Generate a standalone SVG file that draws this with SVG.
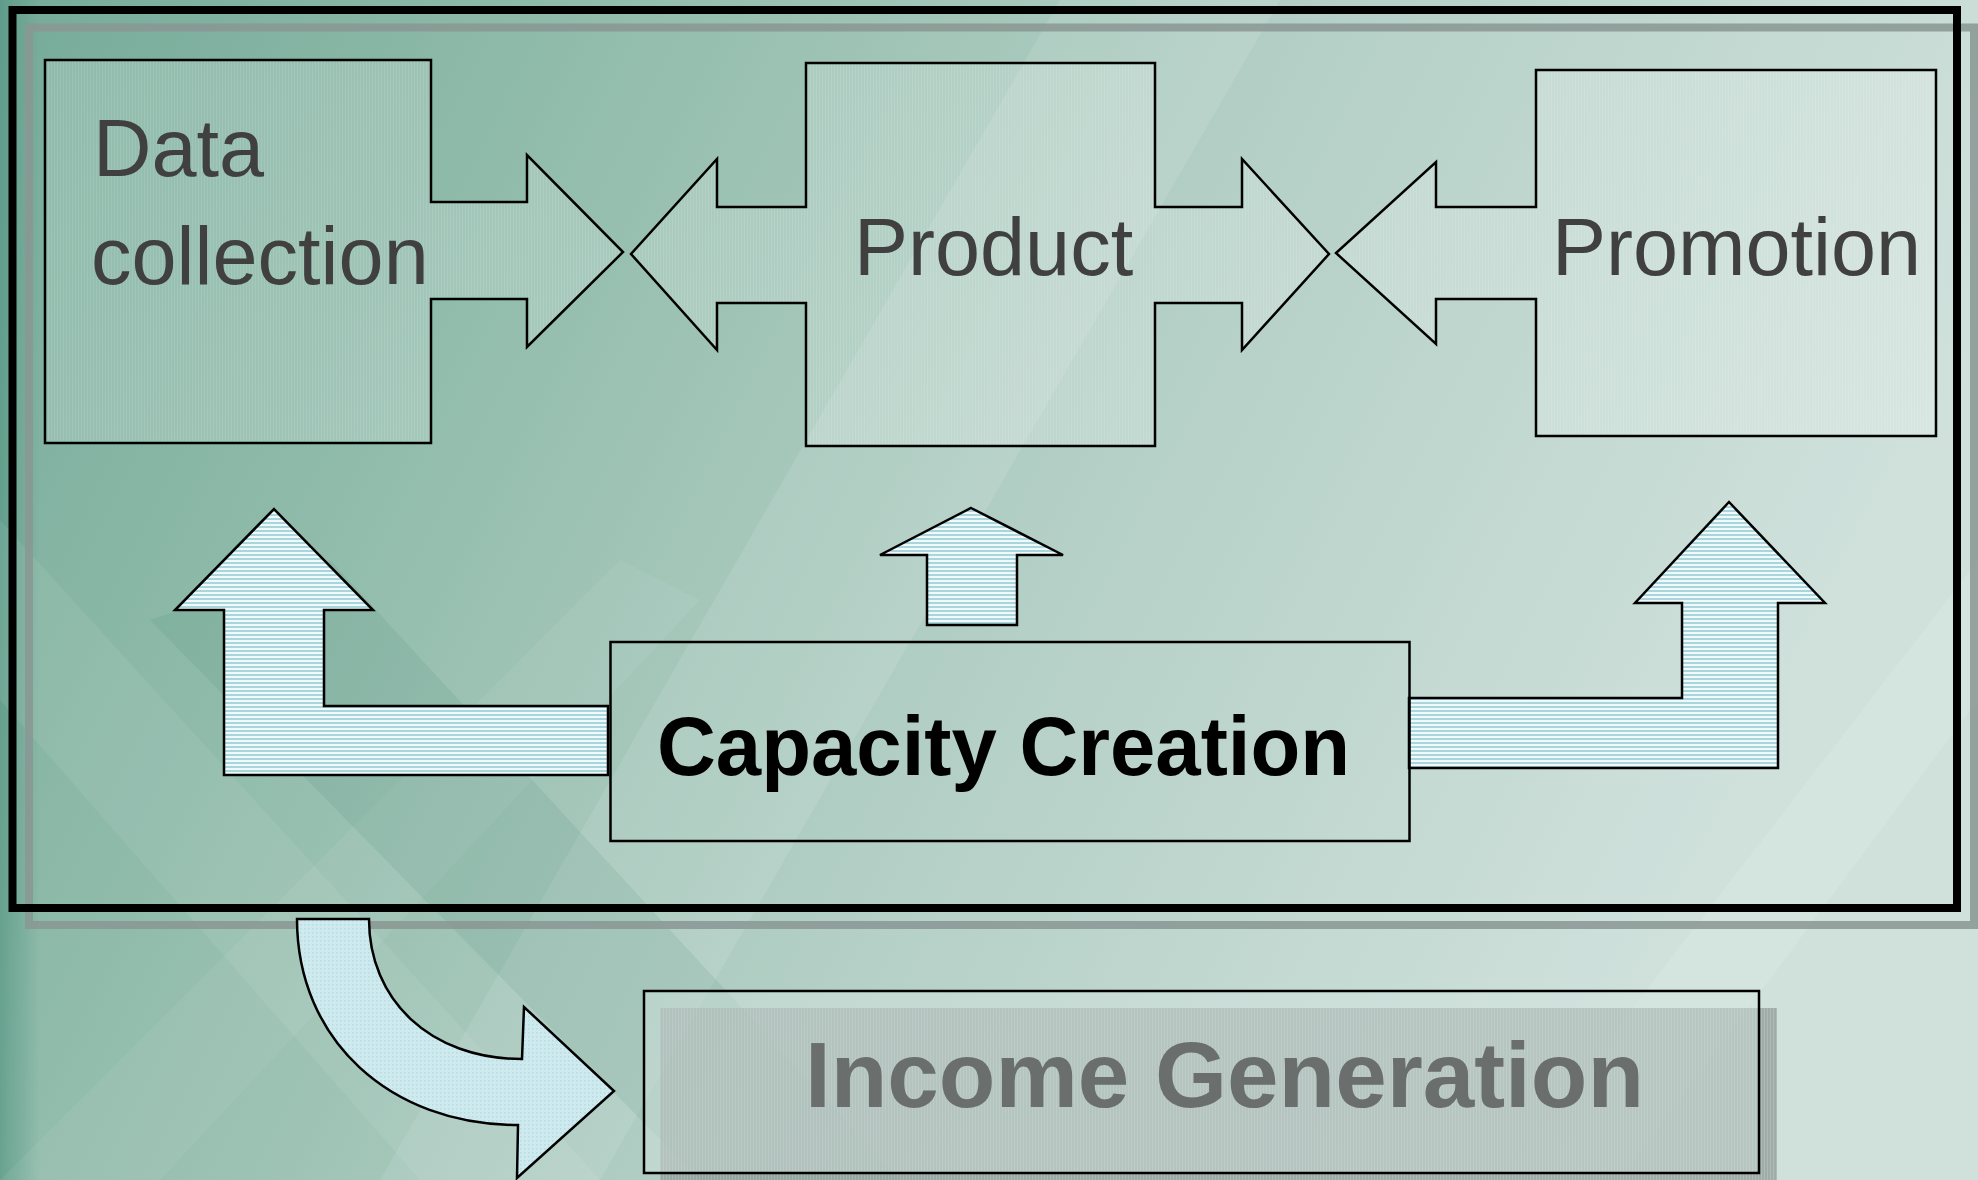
<svg xmlns="http://www.w3.org/2000/svg" width="1978" height="1180" viewBox="0 0 1978 1180">
<style>
.node-shape{stroke:#000;stroke-width:2.5;fill:url(#nodeFill)}
.node-text{font-family:"Liberation Sans",Arial,sans-serif;font-size:81px;fill:#404040}
.bold-text{font-family:"Liberation Sans",Arial,sans-serif;font-weight:bold}
.conn{stroke:#000;stroke-width:2.5;fill:url(#stripes);stroke-linejoin:miter}
</style>
<defs>
<linearGradient id="bg" x1="0" y1="0" x2="1" y2="0.3">
<stop offset="0" stop-color="#76ab99"/>
<stop offset="0.3" stop-color="#93bdad"/>
<stop offset="0.6" stop-color="#b3cfc5"/>
<stop offset="1" stop-color="#d0e1dc"/>
</linearGradient>
<linearGradient id="leftEdge" x1="0" y1="0" x2="1" y2="0">
<stop offset="0" stop-color="#4e927e" stop-opacity="0.6"/>
<stop offset="1" stop-color="#4e927e" stop-opacity="0"/>
</linearGradient>
<pattern id="stripes" width="8" height="4" patternUnits="userSpaceOnUse">
<rect width="8" height="4" fill="#f0f9f9"/>
<rect y="2" width="8" height="2" fill="#a8d6dc"/>
</pattern>
<pattern id="dots" width="4" height="4" patternUnits="userSpaceOnUse">
<rect width="4" height="4" fill="#cfeaee"/>
<rect width="1.5" height="1.5" fill="#b4dde2"/>
</pattern>
<pattern id="nodeFill" width="3" height="3" patternUnits="userSpaceOnUse">
<rect width="3" height="3" fill="#ffffff" fill-opacity="0.16"/>
<rect width="1" height="3" fill="#ffffff" fill-opacity="0.10"/>
</pattern>
<pattern id="grayFill" width="3" height="3" patternUnits="userSpaceOnUse">
<rect width="3" height="3" fill="#8e9a96"/>
<rect width="1" height="3" fill="#a3aeaa"/>
</pattern>
</defs>

<!-- background -->
<rect width="1978" height="1180" fill="url(#bg)"/>
<rect width="40" height="1180" fill="url(#leftEdge)"/>
<polygon points="380,1180 600,1180 1280,0 1060,0" fill="#ffffff" fill-opacity="0.10"/>
<polygon points="0,520 0,700 420,1180 600,1180" fill="#ffffff" fill-opacity="0.07"/>
<polygon points="0,1180 160,1180 700,600 620,560" fill="#ffffff" fill-opacity="0.06"/>
<polygon points="150,620 330,560 900,1180 700,1180" fill="#2f7a63" fill-opacity="0.10"/>
<polygon points="1500,1180 1620,1180 1978,700 1978,560" fill="#ffffff" fill-opacity="0.10"/>

<!-- frame shadow and frame -->
<rect x="29" y="27.5" width="1945" height="897.5" fill="none" stroke="#8a9793" stroke-width="8" stroke-opacity="0.85"/>
<rect x="12.5" y="10" width="1944.5" height="898" fill="none" stroke="#000" stroke-width="8"/>

<g id="connectors">
<path id="arrow-left-L" class="conn" d="M274,509 L373,610 H324 V706 H608 V775 H224 V610 H175 Z"/>
<path id="arrow-center-up" class="conn" d="M971,508 L1063,555 H1017 V625 H927 V555 H880 Z"/>
<path id="arrow-right-L" class="conn" d="M1729,502 L1825,603 H1778 V768 H1409 V698 H1682 V603 H1635 Z"/>
<path id="arrow-curved" d="M297,919 L369,919 C369,1000 430,1059 522,1059 L524,1007 L614,1091 L517,1178 L518,1125 C390,1125 297,1040 297,919 Z" fill="url(#dots)" stroke="#000" stroke-width="2.5"/>
</g>

<g id="data-collection">
<path class="node-shape" d="M45,60 H431 V202 H527 V155 L623,252 L527,347 V299 H431 V443 H45 Z"/>
<text class="node-text" x="93" y="176">Data</text>
<text class="node-text" x="91" y="284">collection</text>
</g>

<g id="product">
<path class="node-shape" d="M806,63 H1155 V207 H1242 V159 L1329,254 L1242,350 V303 H1155 V446 H806 V303 H717 V350 L631,254 L717,159 V207 H806 Z"/>
<text class="node-text" x="854" y="275">Product</text>
</g>

<g id="promotion">
<path class="node-shape" d="M1536,70 H1936 V436 H1536 V299 H1436 V344 L1336,253 L1436,162 V207 H1536 Z"/>
<text class="node-text" x="1552" y="275">Promotion</text>
</g>

<g id="capacity-creation">
<rect x="610.5" y="642" width="799" height="199" fill="none" stroke="#000" stroke-width="2.5"/>
<text class="bold-text" x="657" y="775" font-size="83" fill="#000" textLength="693" lengthAdjust="spacingAndGlyphs">Capacity Creation</text>
</g>

<g id="income-generation">
<rect x="660" y="1008" width="1117" height="200" fill="url(#grayFill)" fill-opacity="0.75"/>
<rect x="644" y="991" width="1115" height="182" fill="#d4e4e0" fill-opacity="0.45" stroke="#000" stroke-width="2.5"/>
<text class="bold-text" x="805" y="1107" font-size="93" fill="#6a6e6c" textLength="839" lengthAdjust="spacingAndGlyphs">Income Generation</text>
</g>
</svg>
